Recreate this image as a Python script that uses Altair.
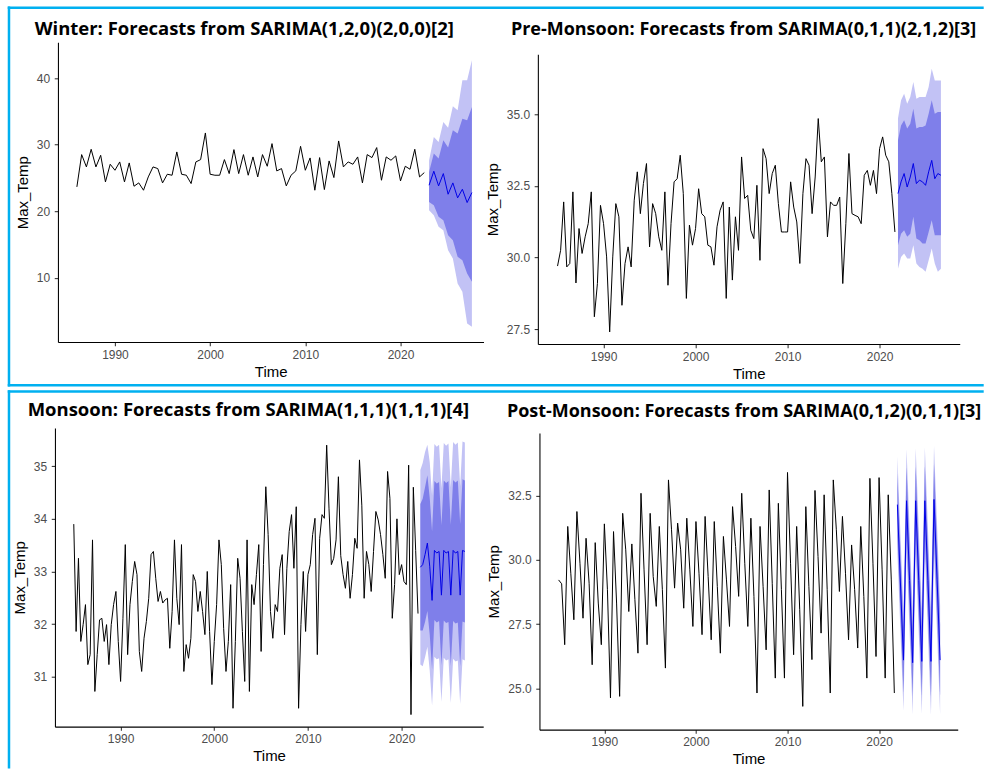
import altair as alt
import pandas as pd

# ---------------- colours ----------------
CYAN = "#00B0F0"
LIGHT = "#C2C2F5"
DARK = "#7F7FEA"
BLUE = "#0000E6"

# ---------------- tick labels ----------------
x_ticks = [1990, 2000, 2010, 2020]

# ---------------- Winter (freq 2) ----------------
winter_title = "Winter: Forecasts from SARIMA(1,2,0)(2,0,0)[2]"
winter_start, winter_freq = 1986.0, 2
winter_vals = [23.65, 28.5, 26.65, 29.3, 26.65, 28.4, 24.4, 27.05, 26.15, 27.4,
               24.4, 27.25, 23.75, 24.25, 23.15, 25.15, 26.65, 26.4, 24.25, 25.55,
               25.4, 28.9, 25.55, 25.4, 24.15, 27.4, 27.75, 31.75, 25.55, 25.4,
               25.4, 27.75, 25.65, 29.25, 25.65, 28.5, 25.4, 28.15, 25.15, 28.5,
               26.75, 30.15, 26.05, 26.4, 23.8, 25.4, 26.05, 29.75, 26.15, 28.0,
               23.15, 28.05, 23.25, 27.55, 25.05, 30.55, 26.65, 27.4, 27.05, 28.15,
               24.25, 28.5, 28.05, 29.55, 24.65, 28.15, 27.65, 28.3, 24.55, 26.75,
               26.3, 29.3, 25.15, 25.8]
winter_fc_start = 2023.0
winter_mean = [23.9, 26.0, 23.8, 25.65, 22.55, 24.25, 22.0, 23.3, 21.3, 22.8]
winter_hi95 = [27.6, 31.15, 30.4, 33.4, 32.55, 35.75, 35.15, 39.65, 39.65, 42.65]
winter_hi80 = [25.9, 28.65, 27.9, 30.65, 29.55, 32.15, 31.65, 33.9, 33.65, 35.65]
winter_lo80 = [21.4, 20.9, 19.15, 18.65, 16.4, 15.65, 13.15, 12.65, 10.65, 9.4]
winter_lo95 = [20.15, 19.4, 17.65, 17.15, 14.15, 12.9, 9.15, 7.9, 3.15, 2.65]
winter_yticks = [10, 20, 30, 40]

# ---------------- Pre-Monsoon (freq 3) ----------------
pre_title = "Pre-Monsoon: Forecasts from SARIMA(0,1,1)(2,1,2)[3]"
pre_start, pre_freq = 1985.0, 3
pre_vals = [29.70, 30.25, 31.94, 29.67, 29.79, 32.29, 29.11, 31.01, 30.14, 30.72,
            31.18, 32.29, 27.93, 29.09, 31.82, 31.18, 30.02, 27.40, 30.02, 31.88,
            31.42, 28.33, 29.79, 30.37, 29.67, 32.00, 32.99, 31.53, 32.58, 33.28,
            30.37, 31.88, 31.53, 30.72, 30.25, 32.29, 29.03, 31.18, 32.64, 32.75,
            33.57, 32.23, 28.57, 31.13, 30.43, 31.01, 32.40, 31.53, 31.42, 30.43,
            30.37, 29.73, 31.07, 31.65, 31.94, 28.57, 31.76, 29.21, 31.42, 30.25,
            33.51, 32.06, 32.17, 30.95, 30.66, 32.52, 29.90, 33.80, 33.45, 32.23,
            32.93, 33.22, 31.88, 30.89, 30.89, 30.89, 32.64, 31.76, 31.24, 29.79,
            32.23, 33.45, 33.22, 31.53, 32.81, 34.85, 33.34, 33.51, 30.72, 31.94,
            31.82, 31.82, 32.11, 29.09, 31.18, 33.63, 31.53, 31.47, 31.42, 31.18,
            32.87, 33.04, 32.52, 33.04, 32.23, 33.80, 34.21, 33.57, 33.34, 32.23,
            30.89]
pre_fc_start = 2022.0
pre_mean = [32.23, 32.64, 32.93, 32.46, 32.81, 33.28, 32.58, 32.70, 32.64, 32.52,
            32.99, 33.39, 32.75, 32.93, 32.87]
pre_hi95 = [34.85, 35.49, 35.72, 35.37, 35.60, 36.13, 35.54, 35.60, 35.60, 35.60,
            35.95, 36.59, 36.18, 36.18, 36.18]
pre_hi80 = [34.09, 34.61, 34.79, 34.50, 34.67, 35.19, 34.50, 34.56, 34.56, 34.61,
            35.02, 35.49, 35.02, 35.08, 35.08]
pre_lo80 = [30.43, 30.83, 30.95, 30.72, 30.83, 31.42, 30.66, 30.60, 30.49, 30.49,
            30.89, 31.30, 30.78, 30.78, 30.78]
pre_lo95 = [29.61, 30.02, 30.14, 29.96, 29.96, 30.43, 29.79, 29.67, 29.61, 29.50,
            29.90, 30.31, 29.79, 29.50, 29.61]
pre_yticks = [27.5, 30.0, 32.5, 35.0]

# ---------------- Monsoon (freq 4) ----------------
mon_title = "Monsoon: Forecasts from SARIMA(1,1,1)(1,1,1)[4]"
mon_start, mon_freq = 1985.0, 4
mon_vals = [33.90, 31.86, 33.25, 31.67, 31.99, 32.37, 31.23, 31.42, 33.60, 30.72,
            31.42, 32.08, 32.11, 31.67, 31.99, 31.23, 31.99, 32.37, 32.62, 31.67,
            30.91, 32.11, 33.51, 31.42, 32.37, 32.81, 33.19, 32.94, 31.48, 31.10,
            31.73, 32.05, 32.49, 33.32, 33.38, 32.87, 32.43, 32.62, 32.40, 32.46,
            32.49, 31.54, 32.24, 33.60, 32.49, 31.99, 33.51, 31.10, 31.61, 31.35,
            31.73, 32.94, 32.81, 32.24, 32.62, 32.24, 31.80, 33.00, 31.86, 30.85,
            31.67, 32.37, 33.60, 33.13, 31.92, 31.10, 31.67, 32.75, 30.40, 31.67,
            33.25, 32.87, 31.86, 30.91, 33.60, 30.72, 32.75, 32.37, 32.94, 33.51,
            31.48, 33.13, 34.61, 33.70, 32.24, 31.73, 32.37, 32.24, 33.06, 33.32,
            31.80, 33.06, 33.76, 34.08, 33.06, 34.23, 30.40, 31.99, 33.00, 31.86,
            32.94, 33.13, 33.70, 34.01, 31.42, 33.63, 34.08, 34.01, 35.40, 34.19,
            33.13, 33.25, 33.60, 34.80, 33.30, 32.94, 32.68, 33.19, 32.49, 32.94,
            33.63, 33.44, 35.12, 34.26, 32.49, 33.38, 33.13, 32.62, 33.38, 34.14,
            33.98, 33.70, 33.32, 32.87, 34.90, 34.39, 32.11, 32.75, 34.00, 32.94,
            33.13, 32.81, 32.75, 35.02, 30.28, 34.60, 33.40, 32.20]
mon_fc_start = 2022.0
mon_mean = [33.08, 33.13, 33.32, 33.54, 33.10, 32.45, 33.40, 33.35, 33.38, 32.55,
            33.40, 33.35, 33.38, 32.55, 33.40, 33.35, 33.38, 32.55, 33.40, 33.38]
mon_hi95 = [34.93, 35.06, 35.27, 35.41, 35.08, 34.45, 35.42, 35.37, 35.41, 34.58,
            35.44, 35.39, 35.43, 34.60, 35.46, 35.41, 35.45, 34.62, 35.47, 35.45]
mon_hi80 = [34.28, 34.38, 34.60, 34.83, 34.40, 33.76, 34.72, 34.67, 34.70, 33.88,
            34.73, 34.68, 34.72, 33.89, 34.74, 34.69, 34.73, 33.90, 34.75, 34.73]
mon_lo80 = [31.88, 31.88, 32.04, 32.25, 31.80, 31.14, 32.08, 32.03, 32.06, 31.22,
            32.07, 32.02, 32.04, 31.21, 32.06, 32.01, 32.03, 31.20, 32.05, 32.03]
mon_lo95 = [31.23, 31.20, 31.37, 31.57, 31.12, 30.45, 31.38, 31.33, 31.35, 30.52,
            31.36, 31.31, 31.33, 30.50, 31.34, 31.29, 31.31, 30.48, 31.33, 31.31]
mon_yticks = [31, 32, 33, 34, 35]

# ---------------- Post-Monsoon (freq 3) ----------------
post_title = "Post-Monsoon: Forecasts from SARIMA(0,1,2)(0,1,1)[3]"
post_start, post_freq = 1985.0, 3
post_vals = [29.22, 29.07, 26.70, 31.30, 29.48, 27.67, 31.88, 29.87, 27.73,
             30.84, 29.09, 25.92, 30.67, 28.32, 26.70, 31.40, 28.84, 24.63,
             31.10, 28.32, 24.69, 31.81, 30.39, 27.99, 30.62, 28.45, 26.37,
             32.59, 29.61, 26.70, 31.81, 29.35, 28.19, 31.30, 28.84, 25.79,
             33.11, 31.17, 28.90, 31.43, 30.39, 28.12, 31.62, 29.61, 27.41,
             31.49, 29.48, 27.09, 31.69, 29.35, 26.89, 31.49, 28.97, 26.37,
             30.91, 29.22, 27.41, 32.07, 30.52, 28.58, 32.59, 29.87, 27.41,
             31.62, 28.58, 24.82, 31.30, 28.97, 26.50, 32.72, 29.09, 25.40,
             32.20, 28.84, 25.40, 33.40, 29.87, 26.31, 31.30, 28.06, 24.30,
             32.07, 28.97, 26.12, 32.70, 30.13, 27.15, 32.53, 28.84, 24.82,
             33.11, 31.17, 28.77, 31.69, 29.48, 26.89, 30.58, 28.84, 26.57,
             31.30, 28.58, 25.40, 33.17, 29.87, 26.24, 33.20, 29.61, 25.40,
             32.53, 29.22, 24.82]
post_fc_start = 2022.0
post_mean = [32.15, 29.10, 26.10, 32.30, 29.20, 26.00, 32.30, 29.20, 26.05,
             32.30, 29.20, 26.05, 32.35, 29.25, 26.10]
post_hi95 = [34.02, 31.00, 28.08, 34.30, 31.22, 28.02, 34.34, 31.25, 28.10,
             34.38, 31.28, 28.14, 34.45, 31.36, 28.22]
post_hi80 = [33.37, 30.33, 27.38, 33.60, 30.53, 27.32, 33.63, 30.55, 27.40,
             33.65, 30.57, 27.42, 33.73, 30.65, 27.50]
post_lo80 = [30.93, 27.87, 24.82, 31.00, 27.87, 24.68, 30.97, 27.85, 24.70,
             30.95, 27.83, 24.68, 30.97, 27.85, 24.70]
post_lo95 = [30.28, 27.20, 24.12, 30.30, 27.18, 23.98, 30.26, 27.15, 24.00,
             30.22, 27.12, 23.96, 30.25, 27.14, 23.98]
post_yticks = [25.0, 27.5, 30.0, 32.5]

dummy = pd.DataFrame({"d": [0]})


def times(start, freq, n):
    return [start + k / freq for k in range(n)]


def panel(title, title_x, title_y, title_size, start, freq, vals, fc_start, mean, lo80,
          hi80, lo95, hi95, xdom, ydom, yticks, yfmt, w, h, xrange=None, yrange=None,
          extra=None):
    hist = pd.DataFrame({"Time": times(start, freq, len(vals)), "Max_Temp": vals})
    fc = pd.DataFrame({"Time": times(fc_start, freq, len(mean)), "mean": mean,
                       "lo80": lo80, "hi80": hi80, "lo95": lo95, "hi95": hi95})
    if xrange is not None:
        xs = alt.Scale(domain=xdom, nice=False, zero=False, range=xrange)
        yax = alt.Axis(values=yticks, format=yfmt, offset=-xrange[0])
    else:
        xs = alt.Scale(domain=xdom, nice=False, zero=False)
        yax = alt.Axis(values=yticks, format=yfmt)
    if yrange is not None:
        ys = alt.Scale(domain=ydom, nice=False, zero=False, range=yrange)
    else:
        ys = alt.Scale(domain=ydom, nice=False, zero=False)
    xax = alt.Axis(values=x_ticks, format="d")
    X = lambda: alt.X("Time:Q", scale=xs, axis=xax, title="Time")
    band95 = alt.Chart(fc).mark_area(color=LIGHT, opacity=1).encode(
        x=X(), y=alt.Y("lo95:Q", scale=ys, axis=yax, title="Max_Temp"), y2="hi95:Q")
    band80 = alt.Chart(fc).mark_area(color=DARK, opacity=1).encode(
        x=X(), y=alt.Y("lo80:Q", title="Max_Temp"), y2="hi80:Q")
    fline = alt.Chart(fc).mark_line(color=BLUE, strokeWidth=1, strokeJoin="round").encode(
        x=X(), y=alt.Y("mean:Q", title="Max_Temp"))
    hline = alt.Chart(hist).mark_line(color="black", strokeWidth=1,
                                      strokeJoin="round").encode(
        x=X(), y=alt.Y("Max_Temp:Q", title="Max_Temp"))
    head = alt.Chart(dummy).mark_text(
        text=title, align="left", baseline="alphabetic", font="Open Sans",
        fontSize=title_size, fontWeight="bold", color="black").encode(
        x=alt.value(title_x), y=alt.value(title_y))
    layers = [band95, band80, fline, hline, head] + (extra or [])
    return alt.layer(*layers).properties(width=w, height=h)


# cyan frame bars (decoration; filled rects, pixel positions relative to top-left cell)
def bar_px(x1, x2, y1, y2):
    return alt.Chart(dummy).mark_rect(color=CYAN).encode(
        x=alt.value(x1), x2=alt.value(x2), y=alt.value(y1), y2=alt.value(y2))


frame = [
    bar_px(-47.25, 929.7, -35.95, -33.45),     # top edge, upper box
    bar_px(-47.25, -44.75, -35.95, 344.55),    # left edge, upper box
    bar_px(-47.25, 929.7, 342.05, 344.55),     # bottom edge, upper box
    bar_px(-47.25, 929.7, 348.25, 350.75),     # top edge, lower box
    bar_px(-47.25, -44.75, 348.25, 727),       # left edge, lower box
]

tl = panel(winter_title, -20.3, -7, 18.5, winter_start, winter_freq, winter_vals,
           winter_fc_start, winter_mean, winter_lo80, winter_hi80, winter_lo95,
           winter_hi95, [1984.01, 2028.72], [0.355, 45.355], winter_yticks, "d",
           429, 300, xrange=[3, 429], extra=frame)
tr = panel(pre_title, -27, -7, 18.0, pre_start, pre_freq, pre_vals, pre_fc_start,
           pre_mean, pre_lo80, pre_hi80, pre_lo95, pre_hi95,
           [1982.86, 2028.71], [26.977, 37.093], pre_yticks, ".1f", 422.3, 302,
           yrange=[302, 12])
bl = panel(mon_title, -27.3, -12, 18.5, mon_start, mon_freq, mon_vals, mon_fc_start,
           mon_mean, mon_lo80, mon_hi80, mon_lo95, mon_hi95,
           [1982.99, 2028.71], [30.051, 35.727], mon_yticks, "d", 428.7, 299)
br = panel(post_title, -31, -11.3, 18.0, post_start, post_freq, post_vals,
           post_fc_start, post_mean, post_lo80, post_hi80, post_lo95, post_hi95,
           [1982.91, 2028.59], [23.395, 34.937], post_yticks, ".1f", 420.3, 302,
           xrange=[1.6, 420.3], yrange=[302, 5])

chart = alt.concat(tl, tr, bl, br, columns=2, spacing={"row": 84, "column": 54.4},
                   bounds="flush", align="each").properties(
    padding={"left": 7, "top": 6, "right": 0, "bottom": 0},
    background="white",
).configure_view(strokeWidth=0).configure_axis(
    grid=False, domainColor="black", domainWidth=1.07, tickColor="#333333",
    tickWidth=1.07, tickSize=3.7, labelColor="#4D4D4D", labelFont="Liberation Sans",
    labelFontSize=12, titleFont="Liberation Sans", titleFontSize=15,
    titleFontWeight="normal", titleColor="black",
).configure_axisX(labelPadding=3.4, titlePadding=4).configure_axisY(
    labelPadding=4.6, titlePadding=6)

chart.save("out.html", embed_options={"renderer": "svg", "actions": False})
